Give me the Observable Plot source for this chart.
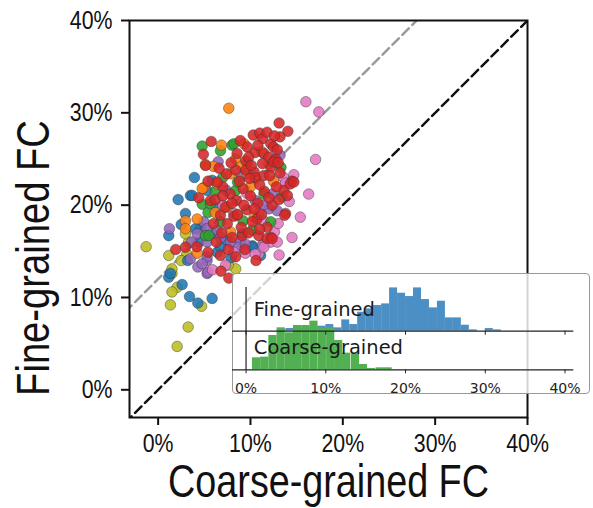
<!DOCTYPE html>
<html>
<head>
<meta charset="utf-8">
<script src="https://cdn.jsdelivr.net/npm/d3@7"></script>
<script src="https://cdn.jsdelivr.net/npm/@observablehq/plot@0.6"></script>
<style>
  html, body { margin: 0; padding: 0; background: white; }
  #wrap { position: relative; width: 593px; height: 508px; overflow: hidden; }
  #insetBox { position: absolute; left: 232px; top: 273px; width: 358px; height: 121px; box-sizing: border-box;
              border: 1px solid #999; border-radius: 4px; background: rgba(255,255,255,0.82); }
  #insetPlot { position: absolute; left: 232px; top: 273px; }
</style>
</head>
<body>
<div id="wrap"><div id="insetBox"></div><div id="insetPlot"></div></div>
<script>
// ---- scatter data: [coarse-grained FC %, fine-grained FC %] ----
const olive = [[-1.3,15.5],[3.3,16.0],[2.96,16.9],[1.15,14.55],[1.5,12.6],[2.06,11.1],[1.5,10.6],[1.33,9.2],[4.7,9.05],[3.25,6.8],[2.06,4.7],[8.4,13.1],[3.1,14.7],[1.5,13.1],[2.5,14.0],[4.5,17.4],[7.6,13.5]];
const blue = [[3.93,23.0],[2.17,20.6],[3.5,21.05],[2.96,19.1],[4.6,17.6],[1.15,16.7],[5.85,16.9],[7.3,16.2],[6.4,14.9],[10.2,15.6],[1.15,12.2],[2.6,11.4],[3.4,10.1],[4.3,9.4],[5.85,9.9],[1.33,12.6],[3.7,21.05],[6.75,15.45],[4.04,17.45],[4.4,16.0],[10.2,15.45],[9.1,16.9],[11.1,14.55],[5.85,22.7],[5.3,21.6],[3.2,14.0],[7.9,14.3],[2.5,17.9],[6.3,19.8]];
const purple = [[6.5,24.7],[13.2,25.4],[1.22,17.45],[4.95,18.2],[4.23,16.9],[6.4,17.3],[5.3,16.0],[3.5,14.2],[5.3,14.0],[8.9,16.0],[5.3,12.6],[4.3,13.3],[5.4,12.75],[12.0,19.6],[12.9,19.4],[7.85,16.0],[8.7,15.45],[9.45,15.8],[5.3,14.4],[4.77,13.65],[6.75,16.5],[10.5,20.5],[11.45,20.0],[5.3,17.45],[7.4,21.6],[9.0,23.2],[3.6,16.0],[12.4,21.2],[11.3,15.7]];
const pink = [[16.0,31.2],[17.4,30.1],[17.05,24.95],[15.4,18.7],[16.3,21.2],[14.5,16.5],[13.1,14.6],[13.6,23.0],[14.7,23.3],[12.6,17.1],[9.45,14.8],[10.9,14.7],[8.2,14.9],[7.3,13.5],[5.9,13.0],[12.2,16.0],[11.45,15.45],[10.5,14.7],[11.45,18.3],[10.9,19.1],[12.9,16.0],[8.2,19.1],[13.8,22.4],[14.2,20.4],[13.0,18.0],[9.6,21.3],[7.0,20.0]];
const green = [[4.77,26.4],[6.75,25.9],[8.0,26.5],[4.77,20.1],[5.4,19.2],[5.13,16.7],[13.4,20.9],[13.3,24.1],[8.2,26.65],[5.67,20.15],[6.75,18.2],[5.5,16.7],[8.4,21.6],[9.65,24.5],[11.45,21.2],[10.2,17.3],[8.6,22.5],[7.0,23.0],[12.2,18.2],[6.2,21.5],[9.2,18.3]];
const orange = [[7.65,30.5],[6.86,26.5],[6.0,24.2],[9.3,26.65],[12.5,22.6],[4.95,21.9],[2.96,18.3],[4.23,18.5],[2.96,17.45],[4.23,14.8],[7.85,17.1],[5.13,24.4],[6.4,22.3],[4.77,21.8],[7.85,23.4],[9.65,23.4],[8.55,18.9],[7.5,19.8],[10.4,18.7],[8.4,25.0],[10.5,22.9],[10.0,22.0],[11.2,25.8],[12.0,24.5],[6.2,19.2],[9.0,24.2]];
const red = [[13.1,28.9],[14.05,28.0],[13.2,27.4],[10.3,27.6],[11.0,27.8],[11.3,27.2],[12.2,26.65],[12.5,26.3],[9.65,26.3],[10.5,25.7],[11.45,25.6],[12.0,25.2],[12.7,25.0],[12.2,24.1],[12.5,24.7],[11.3,24.5],[8.55,25.6],[9.5,24.8],[8.4,23.8],[9.5,23.8],[10.4,23.6],[11.45,23.2],[12.1,23.2],[14.5,22.6],[5.75,26.9],[5.13,24.3],[13.6,21.6],[14.0,21.05],[14.3,22.3],[12.35,20.0],[13.8,19.1],[12.2,16.5],[10.9,16.7],[10.7,18.5],[9.1,16.7],[13.7,18.9],[7.65,12.1],[6.8,12.85],[4.4,20.8],[5.67,20.5],[6.75,18.9],[1.9,15.2],[2.96,15.45],[5.4,14.9],[6.75,14.55],[7.0,22.0],[7.8,21.2],[8.5,20.5],[9.2,21.8],[10.0,21.0],[10.8,20.2],[11.5,21.5],[9.6,19.5],[8.2,18.8],[7.3,19.8],[10.2,18.2],[11.2,19.0],[12.8,22.0],[8.8,22.6],[7.4,23.4],[6.4,22.5],[6.2,20.6],[9.0,17.6],[8.0,16.5],[6.9,17.0],[11.8,17.6],[10.5,23.0],[7.9,24.6],[6.6,24.0],[13.2,23.5],[9.8,25.2],[8.9,27.0],[10.8,26.5],[11.8,27.9],[12.6,27.5],[6.0,18.0],[7.6,15.2],[9.4,15.2],[10.6,14.0],[8.4,14.4],[11.8,16.4],[12.35,16.4],[14.7,22.5],[13.0,24.6],[11.0,22.2],[9.9,22.9],[8.0,20.2],[9.3,20.0],[7.0,21.0],[10.4,19.6],[12.0,20.8],[13.1,20.6],[8.6,19.0],[7.5,18.0],[11.0,17.4],[9.8,17.0],[6.3,16.0],[10.1,24.3],[12.9,26.0],[5.4,22.6],[4.9,25.5],[4.2,15.5]];

const seriesNames = ["S-olive", "S-blue", "S-purple", "S-pink", "S-green", "S-orange", "S-red"];
const seriesColors = ["#bcbd22", "#1f77b4", "#9467bd", "#e377c2", "#2ca02c", "#ff7f0e", "#d62728"];
const seriesData = [olive, blue, purple, pink, green, orange, red];

// reference lines y = x + offset
const refOffsets = [12, 0];
const refColors = ["#9a9a9a", "#111"];

const mainTicks = [0, 10, 20, 30, 40];

// ---- inset histograms ----
const fineBinStart = [4,5,6,7,8,9,10,11,12,13,14,15,16,17,18,19,20,21,22,23,24,25,26,27,28,29,30,31];
const fineHeights  = [5,8,10,10,12,15,20,10,34,20,57,67,77,82,130,114,104,130,95,70,90,40,40,18,4,0,8,4];
const coarseBinStart = [0.8,1.83,2.86,3.89,4.92,5.95,6.98,8.0,9.05,10.1,11.1,12.1,13.2,14.2,15.2,16.3,17.3];
const coarseHeights  = [36,38,103,126,111,133,133,146,126,126,88,50,48,16,4,6,6];
const binWidthFine = 1.0, binWidthCoarse = 1.03;
const insetTicks = [0, 10, 20, 30, 40];
const fineOffset = 115.8;

// ---- build tables ----
const points = seriesData.flatMap((arr, i) => arr.map(([x, y]) => ({x, y, s: seriesNames[i]})));
const refLines = refOffsets.flatMap((o, i) => [-10, 50].map(x => ({x, y: x + o, k: i})));
const fineBins = fineBinStart.map((s, i) => ({x1: s, x2: s + binWidthFine, h: fineHeights[i]}));
const coarseBins = coarseBinStart.map((s, i) => ({x1: s, x2: s + binWidthCoarse, h: coarseHeights[i]}));

const sans = "'Liberation Sans', Arial, sans-serif";

const main = Plot.plot({
  width: 593, height: 508,
  marginLeft: 129, marginRight: 66, marginTop: 20, marginBottom: 91,
  x: {domain: [-3.1, 40]},
  y: {domain: [-3, 40]},
  color: {domain: seriesNames, range: seriesColors},
  style: {fontFamily: sans, background: "white", color: "#111", overflow: "visible"},
  marks: [
    Plot.line(refLines.filter(d => d.k === 0), {x: "x", y: "y", stroke: refColors[0], strokeWidth: 2.5, strokeDasharray: "9,5", clip: "frame"}),
    Plot.line(refLines.filter(d => d.k === 1), {x: "x", y: "y", stroke: refColors[1], strokeWidth: 2.5, strokeDasharray: "9,5", clip: "frame"}),
    Plot.dot(points, {x: "x", y: "y", fill: "s", r: 5.3, fillOpacity: 0.88, stroke: "#333", strokeOpacity: 0.55, strokeWidth: 0.8}),
    Plot.frame({stroke: "#111", strokeWidth: 2}),
    Plot.axisX({ticks: mainTicks, tickFormat: d => d + "%", tickSize: 8, tickPadding: 8, fontSize: 26, strokeWidth: 2, label: null}),
    Plot.axisY({ticks: mainTicks, tickFormat: d => d + "%", tickSize: 8, tickPadding: 9, fontSize: 26, strokeWidth: 2, label: null}),
    Plot.text(["Coarse-grained FC"], {text: d => d, frameAnchor: "bottom", dy: 65, fontSize: 46, textAnchor: "middle", lineAnchor: "middle", fill: "#111"}),
    Plot.text(["Fine-grained FC"], {text: d => d, frameAnchor: "left", rotate: -90, dx: -95, dy: 39, fontSize: 46, textAnchor: "middle", lineAnchor: "middle", fill: "#111"})
  ]
});
document.getElementById("wrap").insertBefore(main, document.getElementById("insetBox"));
// condense the main chart's text (narrow sans look)
main.querySelectorAll("text").forEach(t => {
  const tr = t.getAttribute("transform") || "";
  if (tr.includes("rotate")) {
    t.setAttribute("transform", tr + " scale(0.83,1)");
  } else {
    const len = t.getComputedTextLength();
    if (len > 0) {
      t.setAttribute("textLength", (len * 0.82).toFixed(1));
      t.setAttribute("lengthAdjust", "spacingAndGlyphs");
    }
  }
});

const inset = Plot.plot({
  width: 358, height: 121,
  marginLeft: 0, marginRight: 16.7, marginTop: 0, marginBottom: 24.7,
  x: {domain: [-1.7, 41.1]},
  y: {domain: [0, 289], axis: null},
  style: {fontFamily: "'DejaVu Sans', sans-serif", background: "transparent", color: "#222", overflow: "visible"},
  marks: [
    Plot.rect(fineBins, {x1: "x1", x2: "x2", y1: fineOffset, y2: d => fineOffset + d.h, fill: "#4b8fc4"}),
    Plot.rect(coarseBins, {x1: "x1", x2: "x2", y1: 0, y2: "h", fill: "#52b052"}),
    Plot.ruleY([0, fineOffset], {stroke: "#222", strokeWidth: 1.2}),
    Plot.ruleX([0], {y1: 0, y2: 247, stroke: "#222", strokeWidth: 1.2}),
    Plot.ruleX(insetTicks, {y1: fineOffset - 12, y2: fineOffset, stroke: "#222", strokeWidth: 1}),
    Plot.axisX({ticks: insetTicks, tickFormat: d => d + "%", tickSize: 4, tickPadding: 9, fontSize: 14, label: null}),
    Plot.text(["Fine-grained"], {text: d => d, frameAnchor: "top-left", dx: 21.3, dy: 36, textAnchor: "start", lineAnchor: "middle", fontSize: 19.5, fill: "#1a1a1a"}),
    Plot.text(["Coarse-grained"], {text: d => d, frameAnchor: "top-left", dx: 21.3, dy: 74.4, textAnchor: "start", lineAnchor: "middle", fontSize: 19.5, fill: "#1a1a1a"})
  ]
});
document.getElementById("insetPlot").appendChild(inset);
</script>
</body>
</html>
